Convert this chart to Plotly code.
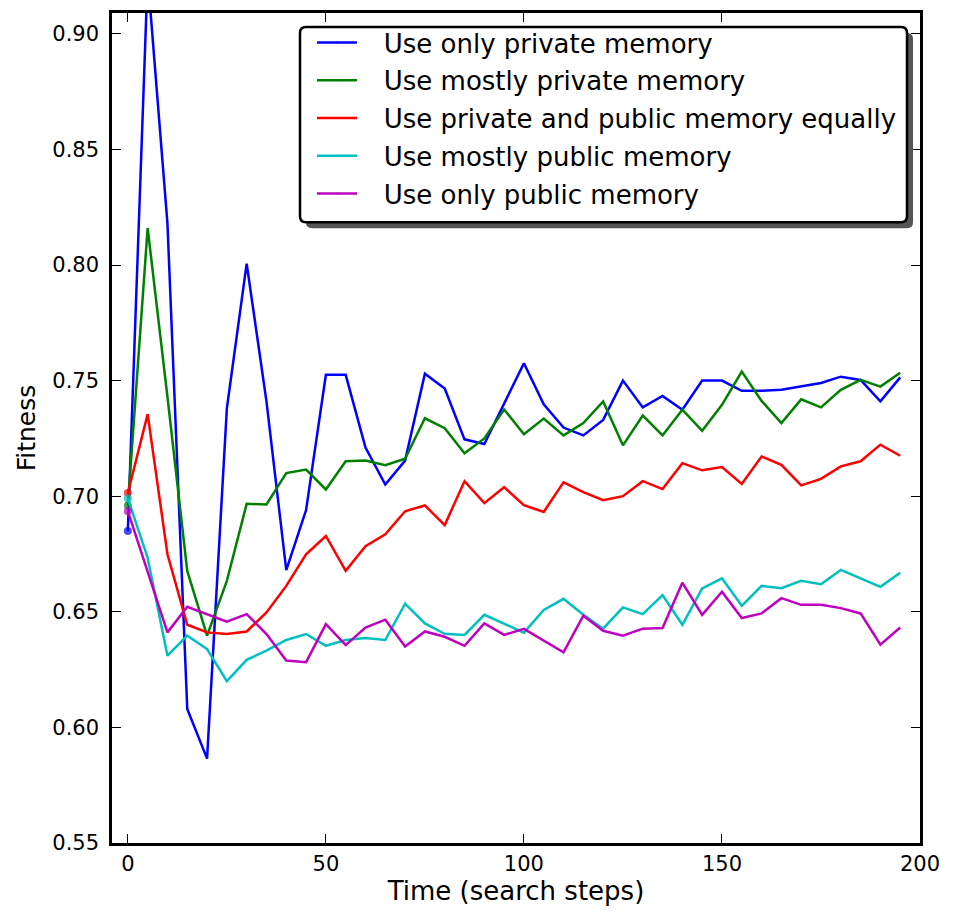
import plotly.graph_objects as go

steps = list(range(0, 200, 5))

only_private = [0.685, 0.925, 0.818, 0.608, 0.5865, 0.738, 0.8006, 0.741, 0.668, 0.694,
                0.7525, 0.7525, 0.721, 0.705, 0.7154, 0.753, 0.7466, 0.7246, 0.7226, 0.740,
                0.7575, 0.7398, 0.7297, 0.7263, 0.733, 0.750, 0.7384, 0.7434, 0.7374, 0.750,
                0.750, 0.7456, 0.7456, 0.746, 0.7474, 0.749, 0.7517, 0.7503, 0.741, 0.7514]
mostly_private = [0.696, 0.816, 0.743, 0.6677, 0.6397, 0.6634, 0.6967, 0.6964, 0.710, 0.7115,
                  0.7029, 0.7151, 0.7154, 0.7134, 0.7162, 0.7337, 0.7294, 0.7186, 0.725, 0.7375,
                  0.7268, 0.7336, 0.7263, 0.7316, 0.741, 0.722, 0.7349, 0.7263, 0.7374, 0.7283,
                  0.7395, 0.7539, 0.7412, 0.7316, 0.7419, 0.7384, 0.746, 0.7503, 0.7474, 0.7534]
equal_mix = [0.7014, 0.7355, 0.6749, 0.6444, 0.6411, 0.6404, 0.6415, 0.6497, 0.6612, 0.6749,
             0.6828, 0.6677, 0.6784, 0.6835, 0.6935, 0.696, 0.6875, 0.7065, 0.697, 0.7039,
             0.6961, 0.6932, 0.706, 0.7018, 0.6983, 0.700, 0.7065, 0.7031, 0.7143, 0.7112,
             0.7126, 0.7053, 0.7172, 0.7136, 0.7047, 0.7075, 0.7129, 0.7151, 0.7223, 0.7175]
mostly_public = [0.699, 0.6734, 0.631, 0.6397, 0.6339, 0.620, 0.6292, 0.6332, 0.6378, 0.6404,
                 0.6353, 0.6378, 0.6387, 0.6378, 0.6535, 0.645, 0.6405, 0.640, 0.6487, 0.645,
                 0.641, 0.6508, 0.6556, 0.6487, 0.6427, 0.6519, 0.649, 0.6572, 0.6444, 0.6601,
                 0.6645, 0.6526, 0.6612, 0.6602, 0.6634, 0.6619, 0.6681, 0.6645, 0.6608, 0.6669]
only_public = [0.6935, 0.6677, 0.6411, 0.6522, 0.649, 0.6457, 0.649, 0.6404, 0.6289, 0.6282,
               0.6447, 0.6356, 0.6432, 0.6466, 0.635, 0.6415, 0.6392, 0.6353, 0.645, 0.640,
               0.6426, 0.6375, 0.6325, 0.6483, 0.6418, 0.6397, 0.6427, 0.643, 0.6626, 0.6487,
               0.6587, 0.6473, 0.6493, 0.6559, 0.653, 0.653, 0.6516, 0.6493, 0.6358, 0.6432]

series_names = ["Use only private memory", "Use mostly private memory",
                "Use private and public memory equally", "Use mostly public memory",
                "Use only public memory"]
series_values = [only_private, mostly_private, equal_mix, mostly_public, only_public]
series_colors = ["#0000ff", "#008000", "#ff0000", "#00bfbf", "#bf00bf"]

x_ticks = [0, 50, 100, 150, 200]
y_ticks = [0.55, 0.60, 0.65, 0.70, 0.75, 0.80, 0.85, 0.90]

FONT = "DejaVu Sans"
W, H = 959, 913
ML, MR, MT, MB = 112, 39, 10, 70
PW, PH = W - ML - MR, H - MT - MB

fig = go.Figure()
for i, (name, vals, col) in enumerate(zip(series_names, series_values, series_colors)):
    sizes = [8] + [0] * (len(vals) - 1)
    fig.add_trace(go.Scatter(
        x=steps, y=vals, name="\u00a0\u00a0\u2009" + name, mode="lines+markers",
        line=dict(color=col, width=2.5),
        marker=dict(color=col, size=sizes, line=dict(width=0)),
        legendgroup=f"g{i}", cliponaxis=True,
    ))

def px2paper(px, py):
    return (px - ML) / PW, (H - MB - py) / PH

def rounded_rect(x0, y0, x1, y1, r=6):
    def P(px, py):
        a, b = px2paper(px, py)
        return f"{a:.5f},{b:.5f}"
    return (f"M{P(x0 + r, y0)} L{P(x1 - r, y0)} Q{P(x1, y0)} {P(x1, y0 + r)} "
            f"L{P(x1, y1 - r)} Q{P(x1, y1)} {P(x1 - r, y1)} "
            f"L{P(x0 + r, y1)} Q{P(x0, y1)} {P(x0, y1 - r)} "
            f"L{P(x0, y0 + r)} Q{P(x0, y0)} {P(x0 + r, y0)} Z")

shapes = [
    dict(type="path", xref="paper", yref="paper", path=rounded_rect(306, 30, 913, 226),
         fillcolor="#555555", line=dict(width=0), layer="above"),
    dict(type="path", xref="paper", yref="paper", path=rounded_rect(300, 24, 907, 220),
         fillcolor="white", line=dict(color="black", width=2.5), layer="above"),
]

lx, ly = px2paper(312, 16)

fig.update_layout(
    width=W, height=H,
    margin=dict(l=ML, r=MR, t=MT, b=MB),
    plot_bgcolor="white", paper_bgcolor="white",
    font=dict(family=FONT, size=21, color="black"),
    showlegend=True,
    legend=dict(x=lx, y=ly, xanchor="left", yanchor="top",
                bgcolor="rgba(0,0,0,0)", borderwidth=0,
                font=dict(family=FONT, size=26, color="black"),
                tracegroupgap=1, itemwidth=40),
    shapes=shapes,
    xaxis=dict(range=[-4, 200], tickvals=x_ticks, ticktext=[str(t) for t in x_ticks],
               ticks="inside", ticklen=9, tickwidth=1, tickcolor="black",
               showline=True, linecolor="black", linewidth=2.5, mirror="ticks",
               showgrid=False, zeroline=False,
               title=dict(text="Time (search steps)", font=dict(size=26), standoff=5)),
    yaxis=dict(range=[0.55, 0.909], tickvals=y_ticks, ticktext=[f"{t:.2f}" for t in y_ticks],
               ticks="inside", ticklen=9, tickwidth=1, tickcolor="black",
               showline=True, linecolor="black", linewidth=2.5, mirror="ticks",
               showgrid=False, zeroline=False, ticklabelstandoff=6,
               title=dict(text="Fitness", font=dict(size=25), standoff=10)),
)

fig.write_html("out.html")
